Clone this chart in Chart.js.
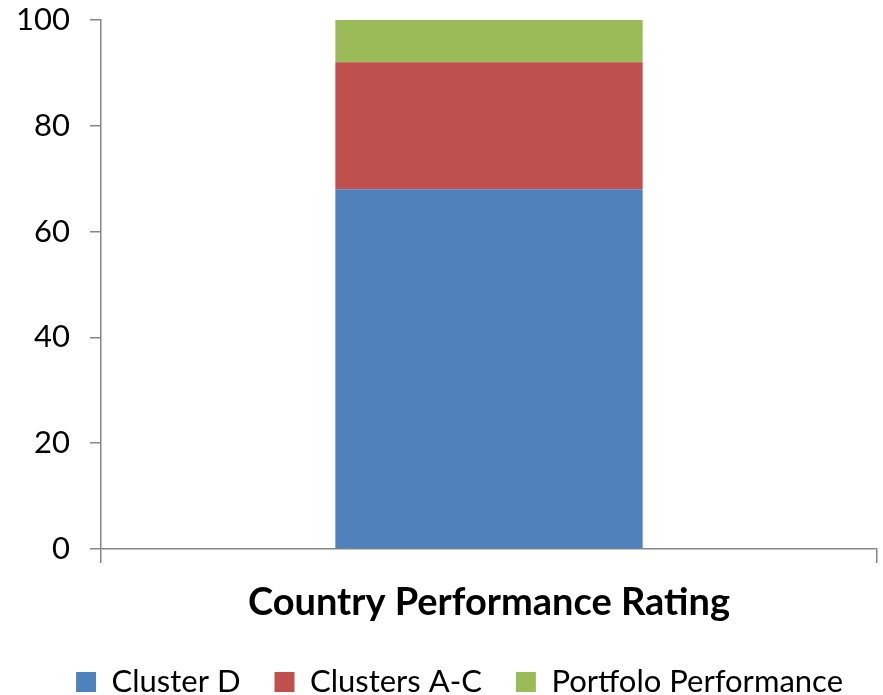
<!DOCTYPE html>
<html>
<head>
<meta charset="utf-8">
<script src="https://cdn.jsdelivr.net/npm/chart.js"></script>
<style>
  html, body { margin: 0; padding: 0; background: #fff; }
  #wrap { width: 883px; height: 695px; }
</style>
</head>
<body>
<div id="wrap"><canvas id="barChart"></canvas></div>
<script>
// chart values
var categories = ['Country Performance Rating'];
var seriesNames = ['Cluster D', 'Clusters A-C', 'Portfolo Performance'];
var clusterD = [68];
var clustersAC = [24];
var portfolio = [8];
var yTicks = [0, 20, 40, 60, 80, 100];

var colors = ['#4F81BD', '#C0504D', '#9BBB59'];
var axisColor = '#868686';
var fontFamily = 'Lato, "Open Sans", sans-serif';

function drawChart() {
  var ctx = document.getElementById('barChart').getContext('2d');

  new Chart(ctx, {
    type: 'bar',
    data: {
      labels: categories,
      datasets: [
        { label: seriesNames[0], data: clusterD, backgroundColor: colors[0] },
        { label: seriesNames[1], data: clustersAC, backgroundColor: colors[1] },
        { label: seriesNames[2], data: portfolio, backgroundColor: colors[2] }
      ]
    },
    options: {
      responsive: true,
      maintainAspectRatio: false,
      animation: false,
      // legend keeps a 10px strip under its row, pull the bottom back a bit
      layout: { padding: { left: 0, right: 6, top: 0, bottom: -12.5 } },
      datasets: {
        bar: { barPercentage: 0.396, categoryPercentage: 1.0 }
      },
      plugins: {
        tooltip: { enabled: false },
        legend: {
          display: true,
          position: 'bottom',
          align: 'end',
          labels: {
            boxWidth: 20,
            boxHeight: 20,
            padding: 34,
            color: '#000',
            font: { family: fontFamily, size: 31 }
          }
        }
      },
      scales: {
        x: {
          stacked: true,
          border: { color: axisColor, width: 1.5 },
          grid: { drawOnChartArea: false, color: axisColor, tickLength: 14, lineWidth: 1.5 },
          ticks: { display: false },
          title: {
            display: true,
            text: categories[0],
            color: '#000',
            padding: { top: 17, bottom: 7 },
            font: { family: fontFamily, size: 38, weight: 'bold' }
          }
        },
        y: {
          stacked: true,
          min: 0,
          max: 100,
          afterBuildTicks: function(scale) {
            scale.ticks = yTicks.map(function(v) { return { value: v }; });
          },
          afterFit: function(scale) {
            scale.width = 101;
            scale.paddingTop = 20;
          },
          border: { color: axisColor, width: 1.5 },
          grid: { drawOnChartArea: false, color: axisColor, tickLength: 11, lineWidth: 1.5 },
          ticks: {
            color: '#000',
            padding: 20,
            font: { family: fontFamily, size: 31 }
          }
        }
      }
    }
  });
}

if (document.fonts && document.fonts.load) {
  Promise.all([
    document.fonts.load('31px Lato'),
    document.fonts.load('bold 38px Lato')
  ]).then(drawChart, drawChart);
} else {
  drawChart();
}
</script>
</body>
</html>
